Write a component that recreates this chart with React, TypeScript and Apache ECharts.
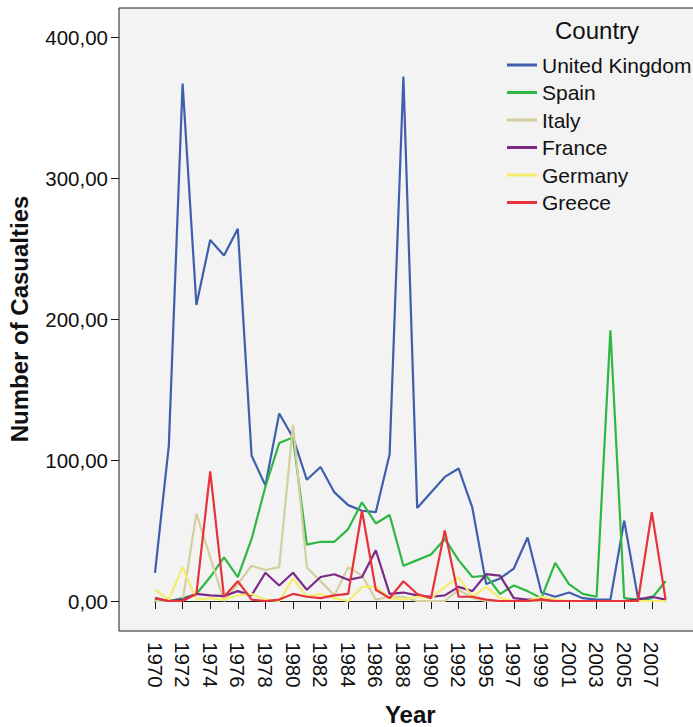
import React, { useEffect, useRef } from "react";
import * as echarts from "echarts";

// Years on the category axis (1993 has no record)
const years: string[] = [
  "1970", "1971", "1972", "1973", "1974", "1975", "1976", "1977", "1978", "1979",
  "1980", "1981", "1982", "1983", "1984", "1985", "1986", "1987", "1988", "1989",
  "1990", "1991", "1992", "1994", "1995", "1996", "1997", "1998", "1999", "2000",
  "2001", "2002", "2003", "2004", "2005", "2006", "2007", "2008",
];

const countries: string[] = ["United Kingdom", "Spain", "Italy", "France", "Germany", "Greece"];

const unitedKingdom: number[] = [
  20, 110, 367, 210, 256, 245, 264, 103, 82, 133, 116, 86, 95, 77, 68, 64, 63, 104, 372, 66, 77, 88, 94,
  66, 12, 16, 23, 45, 6, 3, 6, 2, 1, 1, 57, 2, 0, 0,
];
const spain: number[] = [
  1, 0, 2, 5, 17, 31, 17, 44, 81, 112, 116, 40, 42, 42, 51, 70, 55, 61, 25, 29, 33, 44, 29,
  17, 18, 5, 11, 7, 2, 27, 12, 5, 3, 192, 2, 1, 2, 14,
];
const italy: number[] = [
  0, 0, 0, 62, 31, 0, 12, 25, 22, 24, 125, 24, 14, 4, 24, 18, 1, 3, 3, 0, 0, 0, 8,
  2, 0, 0, 0, 0, 0, 0, 0, 0, 0, 0, 0, 0, 0, 0,
];
const france: number[] = [
  2, 0, 1, 5, 4, 3.5, 7, 4, 20, 11, 20, 8, 17, 19, 15, 17, 36, 5, 6, 4, 3, 4, 10,
  7, 19, 18, 2, 1, 1, 0, 0, 0, 0, 0, 0, 1, 3, 1,
];
const germany: number[] = [
  8, 1, 24, 1, 2, 1, 4, 5, 1, 0, 16, 3, 5, 2, 0, 10, 10, 2, 1, 3, 2, 10, 17,
  3, 10, 2, 0, 0, 3, 1, 0, 0, 0, 0, 0, 0, 0, 0,
];
const greece: number[] = [
  2, 0, 0, 5, 92, 3, 14, 1, 0, 1, 5, 3, 2, 4, 5, 64, 8, 2, 14, 5, 2, 50, 3,
  3, 1, 0, 0, 0, 1, 0, 0, 0, 0, 0, 0, 0, 63, 1,
];

const seriesValues: number[][] = [unitedKingdom, spain, italy, france, germany, greece];
const colors: string[] = ["#3f5eae", "#2fb744", "#d4cf9e", "#7b2a86", "#f3ec6c", "#e8323a"];

const yTicks: number[] = [0, 100, 200, 300, 400];

const FONT = "'Liberation Sans', Arial, sans-serif";

export default function App() {
  const ref = useRef<HTMLDivElement>(null);

  useEffect(() => {
    document.body.style.margin = "0";
    if (!ref.current) return;
    const chart = echarts.init(ref.current, null, { renderer: "svg" });

    chart.setOption({
      animation: false,
      backgroundColor: "#ffffff",
      textStyle: { fontFamily: FONT },
      grid: {
        left: 155,
        right: 27.4,
        top: 37,
        bottom: 126,
        containLabel: false,
        outerBoundsMode: "none",
      },
      graphic: [
        {
          type: "rect",
          z: -10,
          silent: true,
          shape: { x: 119, y: 8, width: 600, height: 623 },
          style: { fill: "#f3f3f3", stroke: "#1a1a1a", lineWidth: 1 },
        },
        {
          type: "text",
          left: 555,
          top: 18,
          z: 10,
          style: { text: "Country", fontSize: 24, fontFamily: FONT, fill: "#111" },
        },
      ],
      legend: {
        orient: "vertical",
        left: 507,
        top: 54.5,
        padding: 0,
        icon: "rect",
        itemWidth: 30,
        itemHeight: 3,
        itemGap: 6.5,
        textStyle: { fontSize: 21, color: "#111", fontFamily: FONT },
        data: countries,
      },
      xAxis: {
        type: "category",
        data: years,
        boundaryGap: false,
        offset: 30,
        axisLine: { show: true, lineStyle: { color: "#1a1a1a", width: 1 } },
        axisTick: { show: true, length: 8, interval: 1, lineStyle: { color: "#1a1a1a" } },
        axisLabel: {
          interval: 1,
          rotate: -90,
          margin: 11,
          fontSize: 20.5,
          color: "#111",
          fontFamily: FONT,
        },
        splitLine: { show: false },
        name: "Year",
        nameLocation: "middle",
        nameGap: 71,
        nameTextStyle: { fontSize: 24, fontWeight: "bold", color: "#111", fontFamily: FONT },
      },
      yAxis: {
        type: "value",
        min: yTicks[0],
        max: yTicks[yTicks.length - 1],
        interval: 100,
        offset: 36,
        axisLine: { show: false },
        axisTick: { show: true, length: 8, lineStyle: { color: "#1a1a1a" } },
        axisLabel: {
          margin: 11,
          fontSize: 20.5,
          color: "#111",
          fontFamily: FONT,
          formatter: (v: number) => v.toFixed(2).replace(".", ","),
        },
        splitLine: { show: false },
        name: "Number of Casualties",
        nameLocation: "middle",
        nameGap: 88,
        nameRotate: 90,
        nameTextStyle: { fontSize: 24, fontWeight: "bold", color: "#111", fontFamily: FONT },
      },
      series: countries.map((name, i) => ({
        name,
        type: "line",
        data: seriesValues[i],
        showSymbol: false,
        symbol: "none",
        color: colors[i],
        lineStyle: { width: 2.2, color: colors[i] },
        z: 2 + i,
      })),
    });

    return () => chart.dispose();
  }, []);

  return <div ref={ref} style={{ width: 693, height: 727 }} />;
}
